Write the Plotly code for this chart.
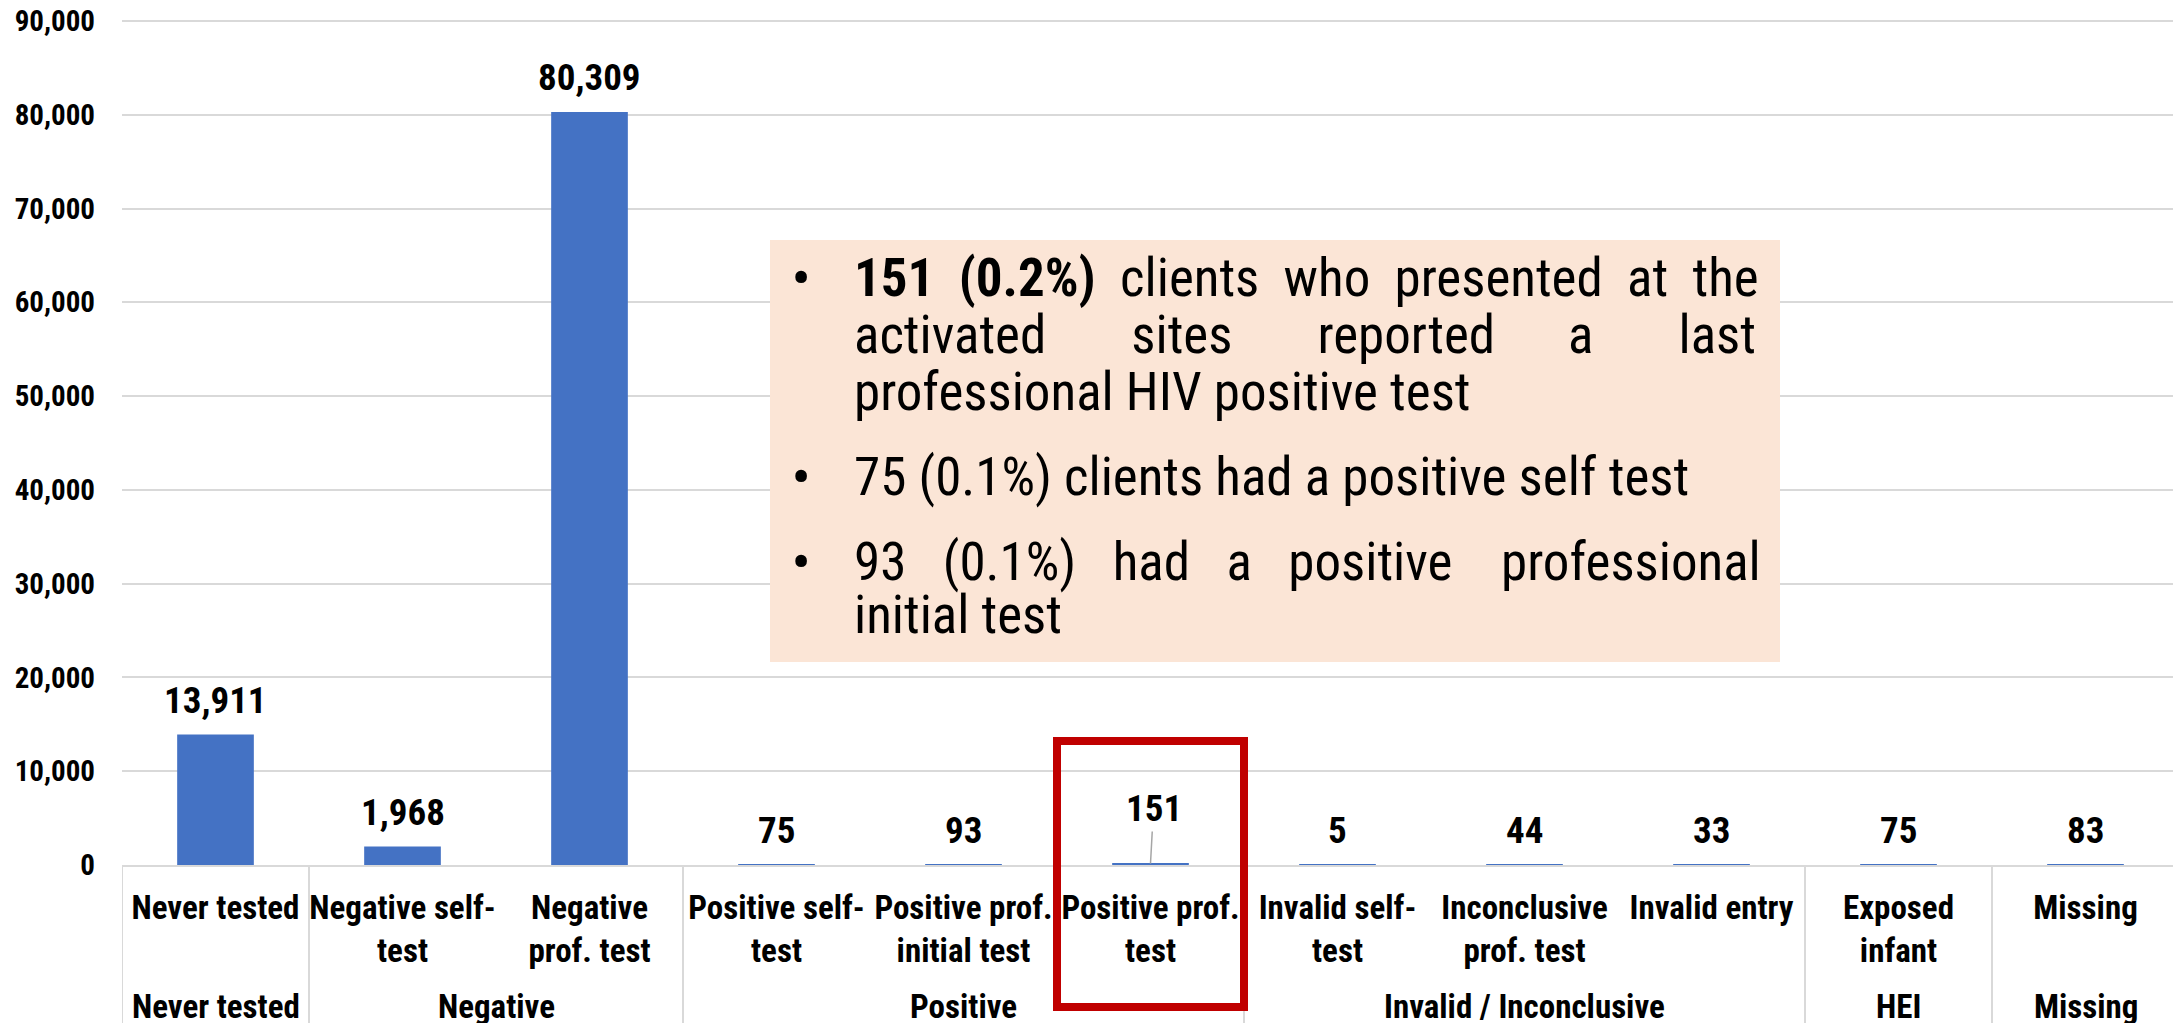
import plotly.graph_objects as go

# ---------------- data ----------------
categories = ["Never tested", "Negative self-test", "Negative prof. test",
              "Positive self-test", "Positive prof. initial test", "Positive prof. test",
              "Invalid self-test", "Inconclusive prof. test", "Invalid entry",
              "Exposed infant", "Missing"]
tick_labels = ["Never tested", "Negative self-<br>test", "Negative<br>prof. test",
               "Positive self-<br>test", "Positive prof.<br>initial test", "Positive prof.<br>test",
               "Invalid self-<br>test", "Inconclusive<br>prof. test", "Invalid entry",
               "Exposed<br>infant", "Missing"]
groups = ["Never tested", "Negative", "Negative",
          "Positive", "Positive", "Positive",
          "Invalid / Inconclusive", "Invalid / Inconclusive", "Invalid / Inconclusive",
          "HEI", "Missing"]
values = [13911, 1968, 80309, 75, 93, 151, 5, 44, 33, 75, 83]
highlight_category = "Positive prof. test"

y_ticks = [0, 10000, 20000, 30000, 40000, 50000, 60000, 70000, 80000, 90000]

# (starts a bullet?, words of the line)
box_lines = [
    (True, ["<b>151</b>", "<b>(0.2%)</b>", "clients", "who", "presented", "at", "the"]),
    (False, ["activated", "sites", "reported", "a", "last"]),
    (False, ["professional", "HIV", "positive", "test"]),
    (True, ["75", "(0.1%)", "clients", "had", "a", "positive", "self", "test"]),
    (True, ["93", "(0.1%)", "had", "a", "positive", "professional"]),
    (False, ["initial", "test"]),
]
# extra spaces per gap to emulate the justified paragraph (style only)
justify_extra = [[1, 1, 1, 1, 1, 1], [6, 6, 5, 6], [0, 0, 0], [0] * 7, [2, 2, 2, 2, 3], [0]]

# ---------------- style ----------------
FONT = "Liberation Sans Narrow, Arial Narrow, Roboto Condensed, Liberation Sans, sans-serif"
BAR = "#4472C4"
GRID = "#D9D9D9"
OFF = 8  # page body margin
W, H = 2181 - OFF, 1023 - OFF
ML, MR, MT, MB = 122 - OFF, 2, 19 - OFF, 158
PH = H - MT - MB
PW = W - ML - MR
Y_TOP_PX = 21     # page pixel of the 90,000 gridline
Y_ZERO_PX = 865   # page pixel of the zero line
Y_MAX = y_ticks[-1] * PH / (Y_ZERO_PX - Y_TOP_PX)


def px_x(xp):  # page pixel -> paper x
    return (xp - 122) / PW


def px_y(yp):  # page pixel -> paper y
    return (Y_ZERO_PX - yp) / PH


fig = go.Figure()
fig.add_trace(go.Bar(x=categories, y=values, marker_color=BAR, marker_line_width=0,
                     hoverinfo="x+y"))

annotations = []
shapes = []

# data labels
for c, v in zip(categories, values):
    if c == highlight_category:
        annotations.append(dict(x=c, y=v, xref="x", yref="y", text=f"<b>{v:,}</b>",
                                showarrow=True, arrowhead=0, arrowwidth=1.5,
                                arrowcolor="#A6A6A6", ax=3, ay=-55,
                                font=dict(family=FONT, size=37, color="black")))
    else:
        annotations.append(dict(x=c, y=v, xref="x", yref="y", text=f"<b>{v:,}</b>",
                                showarrow=False, yanchor="middle", yshift=34,
                                font=dict(family=FONT, size=37, color="black")))

# group labels and dividers
n = len(categories)
bounds = [-0.5]
start = 0
for i in range(1, n + 1):
    if i == n or groups[i] != groups[start]:
        center = (start + i - 1) / 2
        annotations.append(dict(x=center, y=px_y(1007), xref="x", yref="paper",
                                text=f"<b>{groups[start]}</b>", showarrow=False,
                                yanchor="middle",
                                font=dict(family=FONT, size=33, color="black")))
        bounds.append(i - 0.5)
        start = i
for b in bounds:
    shapes.append(dict(type="line", xref="x", yref="paper", x0=b, x1=b, y0=0,
                       y1=-(MB + 5) / PH, line=dict(color=GRID, width=2), layer="below"))

# text box
shapes.append(dict(type="rect", xref="paper", yref="paper",
                   x0=px_x(770), x1=px_x(1780), y0=px_y(662), y1=px_y(240),
                   fillcolor="#FBE5D6", line=dict(width=0), layer="above"))
line_y = [278, 335, 392, 477, 562, 615]
for (bullet, words), extra, yy in zip(box_lines, justify_extra, line_y):
    yp = px_y(yy)
    if bullet:
        annotations.append(dict(x=px_x(801), y=yp, xref="paper", yref="paper",
                                text="<b>•</b>", showarrow=False, xanchor="center",
                                yanchor="middle",
                                font=dict(family=FONT, size=50, color="black")))
    txt = words[0]
    for w_, e in zip(words[1:], extra):
        txt += " " + "&nbsp;" * e + w_
    annotations.append(dict(x=px_x(852), y=yp, xref="paper", yref="paper",
                            text=txt, showarrow=False, xanchor="left", yanchor="middle",
                            font=dict(family=FONT, size=53, color="black")))

# red highlight rectangle
hi = categories.index(highlight_category)
shapes.append(dict(type="rect", xref="x", yref="paper", x0=hi - 0.5, x1=hi + 0.5,
                   y0=px_y(1007), y1=px_y(741), line=dict(color="#C00000", width=8),
                   fillcolor="rgba(0,0,0,0)", layer="above"))

fig.update_layout(
    width=W, height=H,
    margin=dict(l=ML, r=MR, t=MT, b=MB, pad=0, autoexpand=False),
    paper_bgcolor="white", plot_bgcolor="white",
    bargap=0.59, showlegend=False,
    annotations=annotations, shapes=shapes,
    font=dict(family=FONT, color="black"),
)
fig.update_xaxes(type="category", range=[-0.5, n - 0.5], tickvals=categories,
                 ticktext=[f"<b>{t}</b>" for t in tick_labels],
                 tickfont=dict(family=FONT, size=33, color="black"),
                 showline=True, linecolor=GRID, linewidth=2, ticks="",
                 ticklabelstandoff=12, showgrid=False, automargin=False)
fig.update_yaxes(range=[0, Y_MAX], tickvals=y_ticks,
                 ticktext=[f"<b>{v:,}</b>" for v in y_ticks],
                 tickfont=dict(family=FONT, size=29, color="black"),
                 ticklabeloverflow="allow", automargin=False,
                 showgrid=True, gridcolor=GRID, gridwidth=2, zeroline=False,
                 showline=False, ticks="", ticklabelstandoff=26)

fig.write_html("out.html")
